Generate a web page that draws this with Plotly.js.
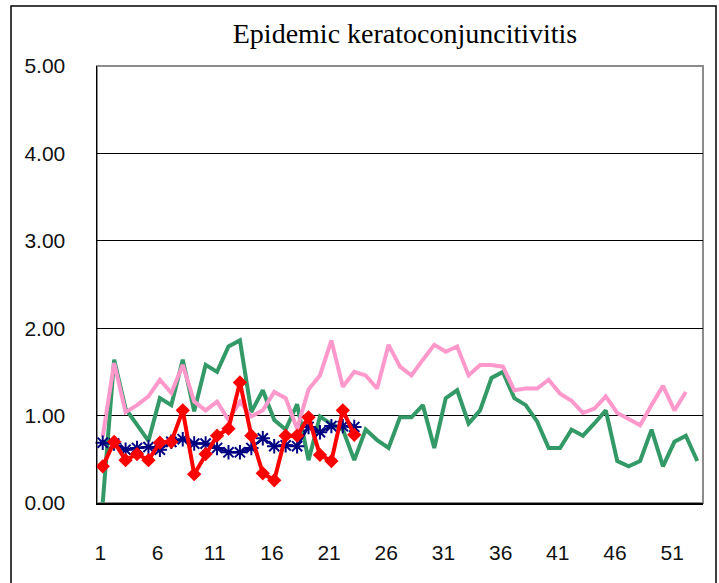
<!DOCTYPE html>
<html>
<head>
<meta charset="utf-8">
<script src="https://cdn.plot.ly/plotly-3.0.1.min.js"></script>
<style>
  html, body { margin: 0; padding: 0; background: #ffffff; }
  #chart { width: 719px; height: 583px; }
</style>
</head>
<body>
<div id="chart"></div>
<script>
// ---- data ----
const titleText = "Epidemic keratoconjuncitivitis";

const weeks = [1,2,3,4,5,6,7,8,9,10,11,12,13,14,15,16,17,18,19,20,21,22,23,24,25,26,27,28,29,30,
               31,32,33,34,35,36,37,38,39,40,41,42,43,44,45,46,47,48,49,50,51,52,53];

const greenSeries = [0.00,1.64,1.08,0.90,0.71,1.20,1.12,1.64,1.05,1.58,1.50,1.79,1.86,1.04,1.29,0.95,
                     0.84,1.13,0.49,0.99,0.90,0.84,0.49,0.84,0.72,0.63,0.98,0.98,1.12,0.63,1.20,1.29,
                     0.91,1.06,1.43,1.50,1.20,1.12,0.93,0.63,0.63,0.84,0.77,0.91,1.06,0.48,0.42,0.48,
                     0.84,0.42,0.70,0.77,0.48];

const pinkSeries = [0.76,1.60,1.04,1.12,1.22,1.41,1.26,1.58,1.16,1.06,1.16,0.95,1.16,0.99,1.06,1.27,
                    1.20,0.85,1.30,1.46,1.86,1.33,1.50,1.46,1.31,1.81,1.56,1.46,1.64,1.81,1.73,1.79,
                    1.46,1.58,1.58,1.56,1.29,1.31,1.31,1.41,1.25,1.17,1.03,1.08,1.22,1.03,0.96,0.89,
                    1.12,1.34,1.06,1.27];

const redSeries = [0.42,0.70,0.49,0.56,0.49,0.69,0.70,1.06,0.33,0.56,0.77,0.85,1.38,0.77,0.34,0.26,
                   0.77,0.77,0.98,0.55,0.48,1.06,0.78];

const blueSeries = [0.69,0.68,0.61,0.63,0.64,0.61,0.70,0.73,0.68,0.68,0.63,0.58,0.58,0.63,0.74,0.65,
                    0.66,0.65,0.87,0.81,0.88,0.88,0.87];

const xTickVals = [1,6,11,16,21,26,31,36,41,46,51];
const xTickText = ["1","6","11","16","21","26","31","36","41","46","51"];
const yTickVals = [0,1,2,3,4,5];
const yTickText = ["0.00","1.00","2.00","3.00","4.00","5.00"];

// ---- traces ----
const traces = [
  { x: weeks.slice(0, greenSeries.length), y: greenSeries, type: "scatter", mode: "lines",
    line: { color: "#339966", width: 4 }, hoverinfo: "skip", showlegend: false },
  { x: weeks.slice(0, pinkSeries.length), y: pinkSeries, type: "scatter", mode: "lines",
    line: { color: "#FF99CC", width: 4 }, hoverinfo: "skip", showlegend: false },
  { x: weeks.slice(0, blueSeries.length), y: blueSeries, type: "scatter", mode: "lines+markers",
    line: { color: "#000080", width: 2.5 },
    marker: { symbol: "asterisk-open", size: 12, color: "#000080", line: { color: "#000080", width: 2 } },
    hoverinfo: "skip", showlegend: false, cliponaxis: false },
  { x: weeks.slice(0, redSeries.length), y: redSeries, type: "scatter", mode: "lines+markers",
    line: { color: "#FF0000", width: 4 },
    marker: { symbol: "diamond", size: 11, color: "#FF0000" },
    hoverinfo: "skip", showlegend: false, cliponaxis: false }
];

// tick marks sit between categories; labels sit just left of each category centre
const boundaryTicks = xTickVals.slice(1).map(v => v - 0.5);
const labelPositions = xTickVals.map(v => v - 0.2);

const layout = {
  width: 719, height: 583,
  margin: { l: 97, r: 16, t: 66, b: 80 },
  paper_bgcolor: "#ffffff", plot_bgcolor: "#ffffff",
  showlegend: false,
  title: {
    text: titleText,
    font: { family: "Liberation Serif, Times New Roman, serif", size: 28, color: "#000000" },
    xref: "container", x: 405 / 719, xanchor: "center",
    yref: "container", y: 1 - 23 / 583, yanchor: "top"
  },
  font: { family: "Liberation Sans, Arial, sans-serif", color: "#000000" },
  xaxis: {
    range: [0.5, 53.5], type: "linear",
    tickmode: "array", tickvals: labelPositions, ticktext: xTickText,
    ticks: "", showgrid: false, zeroline: false,
    showline: true, linecolor: "#000000", linewidth: 1.5,
    tickfont: { family: "Liberation Sans, Arial, sans-serif", size: 21, color: "#111111" },
    ticklabelstandoff: 30, fixedrange: true
  },
  xaxis2: {
    range: [0.5, 53.5], type: "linear", overlaying: "x", anchor: "y", side: "bottom",
    tickmode: "array", tickvals: boundaryTicks,
    ticks: "inside", ticklen: 8, tickwidth: 1, tickcolor: "#000000",
    showticklabels: false, showgrid: false, zeroline: false, showline: false, fixedrange: true
  },
  yaxis: {
    range: [0, 5], tickmode: "array", tickvals: yTickVals, ticktext: yTickText,
    ticks: "inside", ticklen: 8, tickwidth: 1, tickcolor: "#000000",
    showgrid: true, gridcolor: "#000000", gridwidth: 1, zeroline: false,
    showline: true, linecolor: "#000000", linewidth: 1.5,
    tickfont: { family: "Liberation Sans, Arial, sans-serif", size: 21, color: "#111111" },
    ticklabelstandoff: 26, fixedrange: true
  },
  shapes: [
    { type: "rect", xref: "paper", yref: "paper", x0: 0, x1: 1, y0: 0, y1: 1,
      line: { color: "#8c8c8c", width: 2 }, fillcolor: "rgba(0,0,0,0)", layer: "between" },
    { type: "rect", xref: "paper", yref: "paper",
      x0: (11 - 97) / 606, x1: (716 - 97) / 606, y0: (503 - 600) / 437, y1: (503 - 6) / 437,
      line: { color: "#000000", width: 1.5 }, fillcolor: "rgba(0,0,0,0)", layer: "above" }
  ]
};

Plotly.newPlot("chart", traces, layout, { staticPlot: true, displayModeBar: false });
</script>
</body>
</html>
